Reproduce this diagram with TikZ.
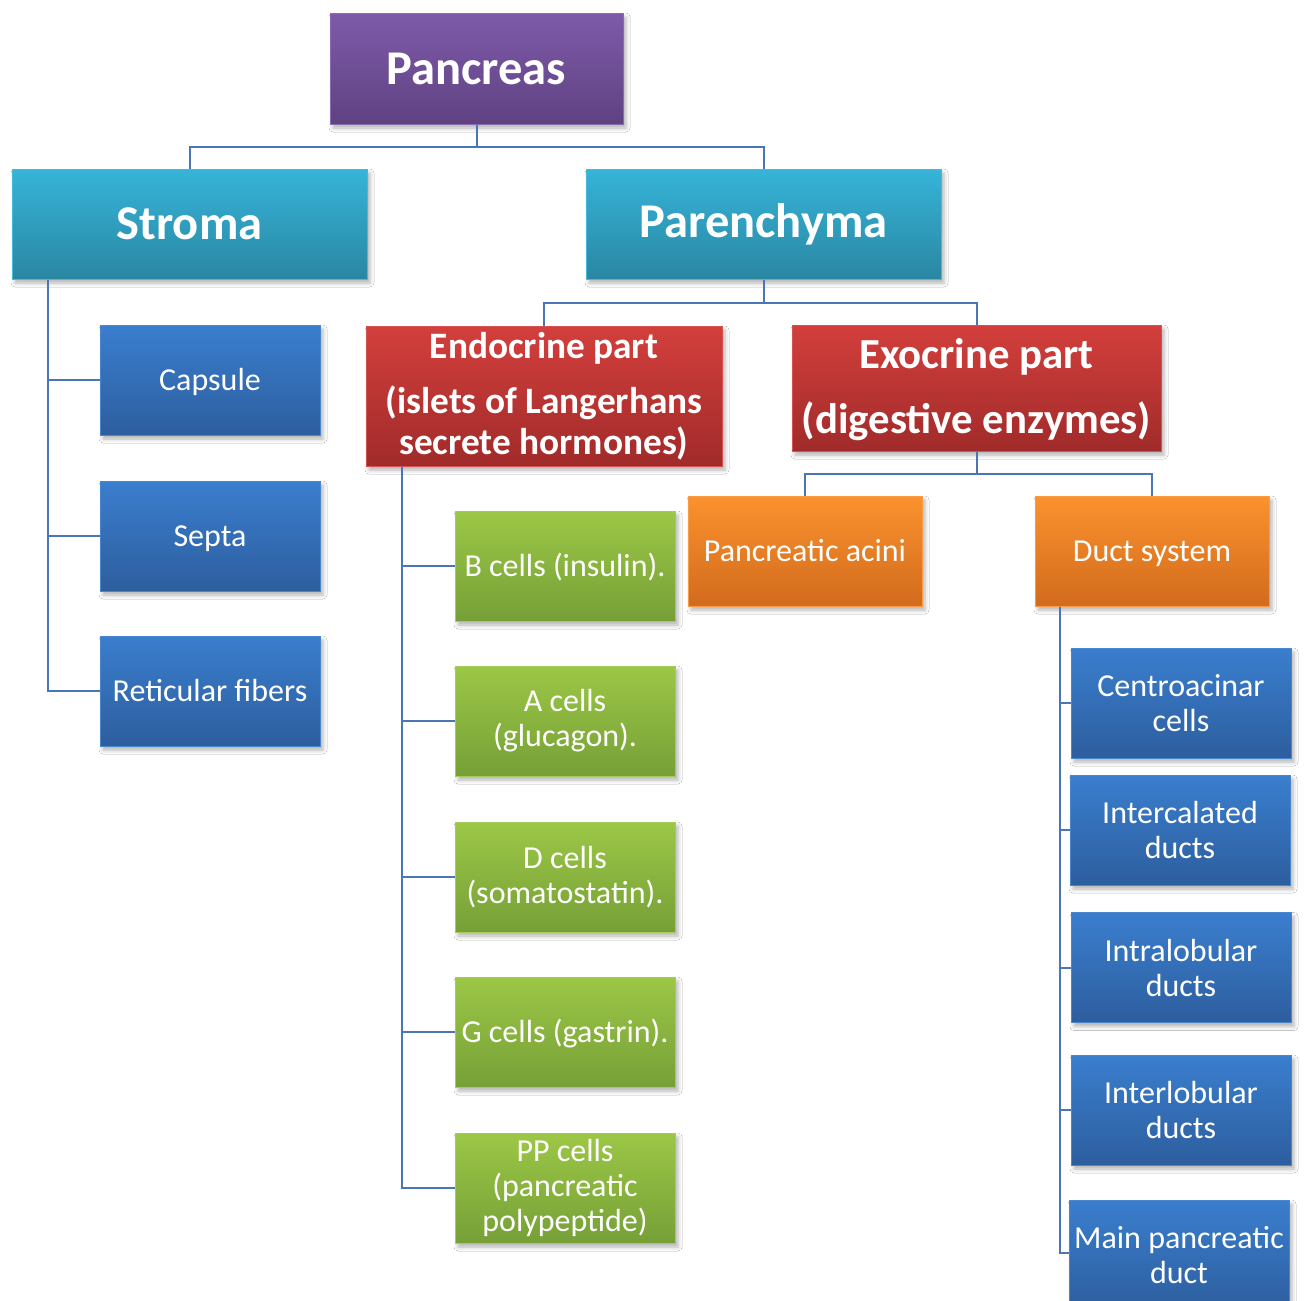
\documentclass[tikz,border=0pt]{standalone}
\usepackage{fontspec}
\setmainfont{Carlito}
\usetikzlibrary{shadows.blur,calc}
\definecolor{conn}{HTML}{4A76B5}
\definecolor{purT}{HTML}{7E5AA9}\definecolor{purB}{HTML}{5F4282}\definecolor{purD}{HTML}{8A6BB2}
\definecolor{tealT}{HTML}{36B4D8}\definecolor{tealB}{HTML}{2A87A3}\definecolor{tealD}{HTML}{45BBDA}
\definecolor{bluT}{HTML}{3A7ECE}\definecolor{bluB}{HTML}{2D5E9E}\definecolor{bluD}{HTML}{4A86CE}
\definecolor{redT}{HTML}{D33F3C}\definecolor{redB}{HTML}{A02B2A}\definecolor{redD}{HTML}{D55250}
\definecolor{grnT}{HTML}{9CC746}\definecolor{grnB}{HTML}{76A037}\definecolor{grnD}{HTML}{A5CB5A}
\definecolor{orgT}{HTML}{FB922E}\definecolor{orgB}{HTML}{D26B1D}\definecolor{orgD}{HTML}{FA9C45}
\tikzset{
  box/.style={rectangle, inner sep=2pt, text=white, align=center, line width=1pt,
    blur shadow={shadow xshift=3pt, shadow yshift=-4pt, shadow blur radius=4pt, shadow opacity=30}},
  purbox/.style={box, draw=purD, top color=purT, bottom color=purB, minimum width=293pt, minimum height=111pt,
    font=\fontsize{48.5}{56}\selectfont\bfseries},
  tealbox/.style={box, draw=tealD, top color=tealT, bottom color=tealB, minimum width=355pt, minimum height=110pt,
    font=\fontsize{48.5}{56}\selectfont\bfseries},
  redbox/.style={box, draw=redD, top color=redT, bottom color=redB},
  small/.style={minimum height=110pt, font=\fontsize{32}{35}\selectfont},
  one/.style={text height=27pt, text depth=6pt},
  blubox/.style={box, small, draw=bluD, top color=bluT, bottom color=bluB, minimum width=220pt},
  grnbox/.style={box, small, draw=grnD, top color=grnT, bottom color=grnB, minimum width=220pt},
  orgbox/.style={box, small, draw=orgD, top color=orgT, bottom color=orgB, minimum width=234pt},
  conn/.style={draw=conn, line width=2pt}
}
\begin{document}
\begin{tikzpicture}[x=1pt,y=-1pt]
\useasboundingbox[fill=white] (0,0) rectangle (1304,1301);
% level 0-1
\node[purbox] (pan) at (476.5,68.5) {Pancreas};
\node[tealbox] (str) at (189.5,224) {Stroma};
\node[tealbox] (par) at (763.5,224) {Parenchyma};
% stroma children
\node[blubox, one] (cap) at (210,380) {Capsule};
\node[blubox, one] (sep) at (210,536) {Septa};
\node[blubox, one] (ret) at (210,691) {Reticular fibers};
% parenchyma children
\node[redbox, minimum width=356pt, minimum height=140pt, font=\fontsize{37.3}{41}\selectfont\bfseries]
  (endo) at (544,396) {Endocrine part\\[14pt](islets of Langerhans\\secrete hormones)};
\node[redbox, minimum width=369pt, minimum height=126pt, font=\fontsize{42.8}{50}\selectfont\bfseries, text depth=3.5pt]
  (exo) at (976.5,388) {Exocrine part\\[15pt](digestive enzymes)};
% endocrine children
\node[grnbox, one] (bc) at (565,566) {B cells (insulin).};
\node[grnbox] (ac) at (565,721) {A cells\\(glucagon).};
\node[grnbox] (dc) at (565,877) {D cells\\(somatostatin).};
\node[grnbox, one] (gc) at (565,1032) {G cells (gastrin).};
\node[grnbox] (pp) at (565,1188) {PP cells\\(pancreatic\\polypeptide)};
% exocrine children
\node[orgbox, one] (aci) at (805,551) {Pancreatic acini};
\node[orgbox, one] (duc) at (1152,551) {Duct system};
% duct children
\node[blubox] (cen) at (1181,703) {Centroacinar\\cells};
\node[blubox] (icd) at (1180,830) {Intercalated\\ducts};
\node[blubox] (ild) at (1181,967.5) {Intralobular\\ducts};
\node[blubox] (ird) at (1181,1110) {Interlobular\\ducts};
\node[blubox] (mpd) at (1179,1255) {Main pancreatic\\duct};
% connectors
\draw[conn] (pan.south) -- ++(0,22) -| (str.north);
\draw[conn] (pan.south) -- ++(0,22) -| (par.north);
\draw[conn] (par.south) -- ++(0,23) -| (endo.north);
\draw[conn] (par.south) -- ++(0,23) -| (exo.north);
\draw[conn] (exo.south) -- ++(0,22) -| (aci.north);
\draw[conn] (exo.south) -- ++(0,22) -| (duc.north);
\coordinate (st) at ($(str.south west)+(36,0)$);
\draw[conn] (st) |- (cap.west);
\draw[conn] (st) |- (sep.west);
\draw[conn] (st) |- (ret.west);
\coordinate (et) at ($(endo.south west)+(36,0)$);
\draw[conn] (et) |- (bc.west);
\draw[conn] (et) |- (ac.west);
\draw[conn] (et) |- (dc.west);
\draw[conn] (et) |- (gc.west);
\draw[conn] (et) |- (pp.west);
\coordinate (dt) at ($(duc.south west)+(25,0)$);
\draw[conn] (dt) |- (cen.west);
\draw[conn] (dt) |- (icd.west);
\draw[conn] (dt) |- (ild.west);
\draw[conn] (dt) |- (ird.west);
\draw[conn] (dt) |- ($(mpd.west)+(0,-2)$);
\end{tikzpicture}
\end{document}
